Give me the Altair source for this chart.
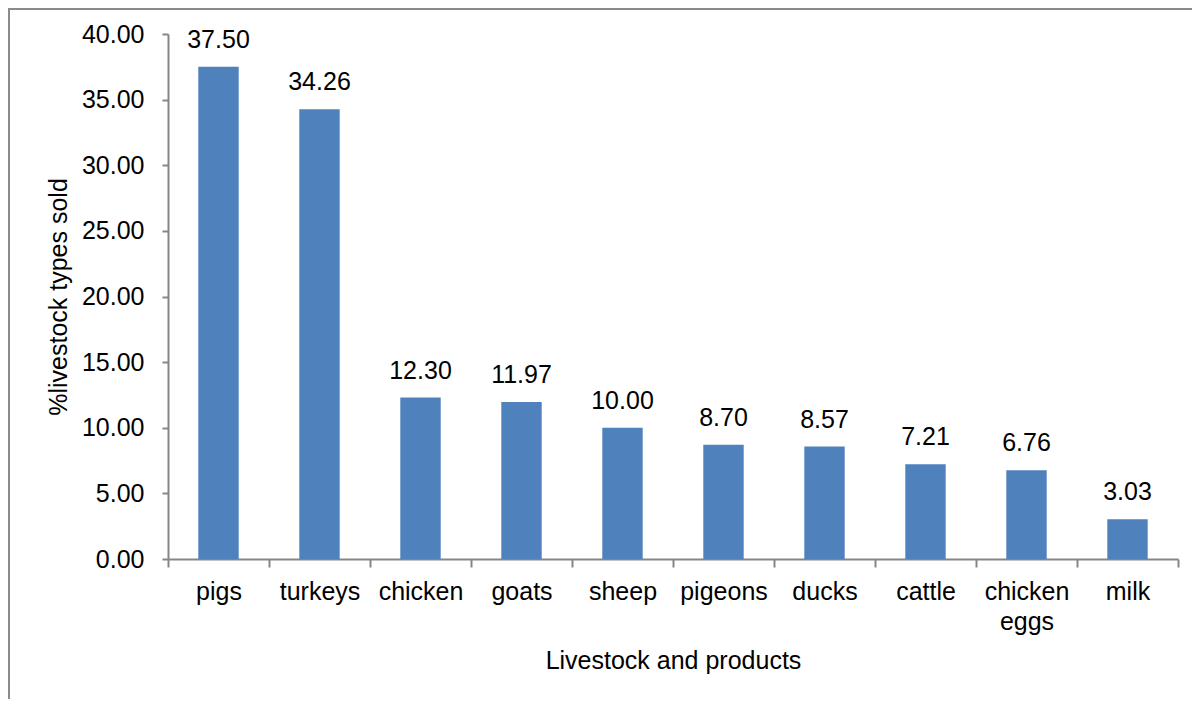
import altair as alt
import pandas as pd

categories = ["pigs", "turkeys", "chicken", "goats", "sheep", "pigeons",
              "ducks", "cattle", "chicken eggs", "milk"]
values = [37.50, 34.26, 12.30, 11.97, 10.00, 8.70, 8.57, 7.21, 6.76, 3.03]
y_ticks = [0, 5, 10, 15, 20, 25, 30, 35, 40]

df = pd.DataFrame({"cat": categories, "val": values})

FONT = "Liberation Sans"
AXIS_GRAY = "#868686"
FS = 25

x_enc = alt.X(
    "cat:N", sort=categories,
    scale=alt.Scale(paddingInner=0, paddingOuter=0),
    axis=alt.Axis(
        title="Livestock and products", labelAngle=0,
        labelExpr="split(datum.label, ' ')", labelLineHeight=30,
        tickBand="extent", ticks=True, tickSize=8, tickColor=AXIS_GRAY, domainColor=AXIS_GRAY,
        tickWidth=2, domainWidth=2,
        labelPadding=12, titlePadding=14,
        labelFont=FONT, labelFontSize=FS, labelColor="black",
        titleFont=FONT, titleFontSize=FS, titleFontWeight="normal", titleColor="black",
    ),
)
y_enc = alt.Y(
    "val:Q",
    scale=alt.Scale(domain=[0, 40], nice=False),
    axis=alt.Axis(
        title="%livestock types sold", values=y_ticks, format=".2f", grid=False,
        tickSize=6, tickColor=AXIS_GRAY, domainColor=AXIS_GRAY,
        tickWidth=2, domainWidth=2,
        labelPadding=18, titlePadding=10,
        labelFont=FONT, labelFontSize=FS, labelColor="black",
        titleFont=FONT, titleFontSize=FS, titleFontWeight="normal", titleColor="black",
    ),
)

bars = alt.Chart(df).mark_bar(color="#4F81BD", width=alt.RelativeBandSize(0.4)).encode(x=x_enc, y=y_enc)
labels = alt.Chart(df).mark_text(
    font=FONT, fontSize=FS, color="black", baseline="alphabetic", dy=-19
).encode(x=alt.X("cat:N", sort=categories), y="val:Q", text=alt.Text("val:Q", format=".2f"))

frame_left = alt.Chart(df).mark_rule(color="#8a8a8a", strokeWidth=2).encode(
    x=alt.value(-159), y=alt.value(-26), y2=alt.value(700))
frame_top = alt.Chart(df).mark_rule(color="#8a8a8a", strokeWidth=2).encode(
    x=alt.value(-160), x2=alt.value(1030), y=alt.value(-25))

chart = alt.layer(bars, labels, frame_left, frame_top).properties(
    width=1010, height=525,
    autosize=alt.AutoSizeParams(type="none"),
    padding={"left": 160, "top": 26, "right": 14, "bottom": 140},
).configure_view(stroke=None)

chart.save("out.html", embed_options={"renderer": "svg", "actions": False})
